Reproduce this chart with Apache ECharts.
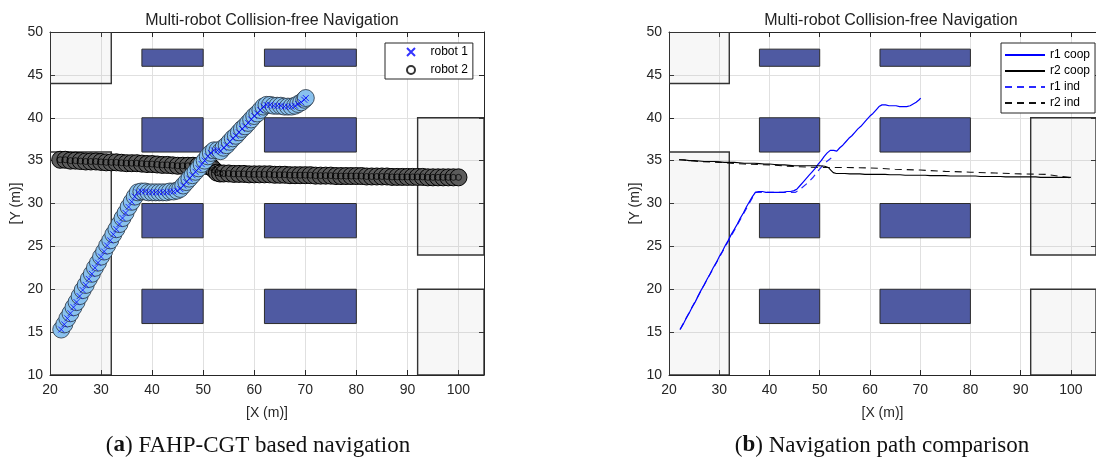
<!DOCTYPE html>
<html>
<head>
<meta charset="utf-8">
<script src="https://cdn.jsdelivr.net/npm/echarts/dist/echarts.min.js"></script>
<style>
  html, body { margin: 0; padding: 0; background: #fff; }
  #chart { width: 1096px; height: 469px; }
</style>
</head>
<body>
<div id="chart"></div>
<script>
// Map extent and tick spacing (metres)
const xRange = [20, 105];
const yRange = [10, 50];
const xStep = 10;
const yStep = 5;

// Shelf obstacles: [x0, x1, y0, y1]
const shelves = [
  [38, 50, 46, 48], [62, 80, 46, 48],
  [38, 50, 36, 40], [62, 80, 36, 40],
  [38, 50, 26, 30], [62, 80, 26, 30],
  [38, 50, 16, 20], [62, 80, 16, 20]
];

// Wall blocks on the map border: [x0, x1, y0, y1]
const walls = [
  [20, 32, 44, 50], [20, 32, 10, 36],
  [92, 105, 24, 40], [92, 105, 10, 20]
];

// Robot 1 cooperative trajectory (x, y)
const robot1Path = [
  [22.2, 15.3], [22.8, 15.9], [23.4, 16.6], [24.0, 17.2], [24.6, 17.9], [25.2, 18.5],
  [25.8, 19.2], [26.4, 19.9], [27.0, 20.5], [27.6, 21.2], [28.2, 21.8], [28.8, 22.5],
  [29.4, 23.1], [30.0, 23.8], [30.6, 24.4], [31.2, 25.1], [31.8, 25.7], [32.4, 26.4],
  [33.0, 27.0], [33.6, 27.6], [34.2, 28.3], [34.8, 28.9], [35.4, 29.6], [36.0, 30.2],
  [36.6, 30.8], [37.2, 31.3], [37.9, 31.4], [38.6, 31.4], [39.3, 31.3], [40.0, 31.3],
  [40.7, 31.3], [41.4, 31.3], [42.1, 31.3], [42.8, 31.3], [43.5, 31.4], [44.2, 31.4],
  [44.9, 31.5], [45.5, 31.7], [46.1, 32.1], [46.7, 32.5], [47.3, 32.9], [47.9, 33.3],
  [48.5, 33.7], [49.1, 34.1], [49.7, 34.6], [50.3, 35.0], [50.9, 35.5], [51.5, 35.9],
  [52.1, 36.2], [52.8, 36.2], [53.4, 36.1], [54.0, 36.5], [54.6, 36.8], [55.2, 37.2],
  [55.8, 37.6], [56.4, 37.9], [57.0, 38.3], [57.6, 38.7], [58.2, 39.0], [58.8, 39.4],
  [59.4, 39.8], [60.0, 40.2], [60.6, 40.5], [61.2, 40.9], [61.8, 41.3], [62.4, 41.5],
  [63.1, 41.5], [63.8, 41.4], [64.5, 41.4], [65.2, 41.4], [65.9, 41.3], [66.6, 41.3],
  [67.3, 41.3], [68.0, 41.4], [68.6, 41.6], [69.2, 41.8], [69.8, 42.1], [70.1, 42.3]
];

// Robot 2 cooperative trajectory (x, y)
const robot2Path = [
  [22, 35.1], [23, 35.1], [24, 35.0], [25, 35.0], [26, 34.95], [27, 34.9], [28, 34.9],
  [29, 34.9], [30, 34.85], [31, 34.8], [32, 34.8], [33, 34.8], [34, 34.75], [35, 34.7],
  [36, 34.7], [37, 34.7], [38, 34.65], [39, 34.6], [40, 34.6], [41, 34.55], [42, 34.5],
  [43, 34.5], [44, 34.45], [45, 34.4], [46, 34.4], [47, 34.4], [48, 34.4], [49, 34.4],
  [50, 34.4], [51, 34.35], [51.7, 34.2], [52.2, 33.9], [52.7, 33.6], [53.3, 33.5],
  [54, 33.5], [55, 33.5], [56, 33.45], [57, 33.45], [58, 33.45], [59, 33.4], [60, 33.4],
  [61, 33.4], [62, 33.4], [63, 33.4], [64, 33.35], [65, 33.35], [66, 33.35], [67, 33.3],
  [68, 33.3], [69, 33.3], [70, 33.3], [71, 33.3], [72, 33.25], [73, 33.25], [74, 33.25],
  [75, 33.25], [76, 33.2], [77, 33.2], [78, 33.2], [79, 33.2], [80, 33.2], [81, 33.2],
  [82, 33.15], [83, 33.15], [84, 33.15], [85, 33.15], [86, 33.15], [87, 33.1], [88, 33.1],
  [89, 33.1], [90, 33.1], [91, 33.1], [92, 33.1], [93, 33.1], [94, 33.05], [95, 33.05],
  [96, 33.05], [97, 33.05], [98, 33.05], [99, 33.05], [100, 33.05]
];

// Independent (non-cooperative) trajectories
const robot1Ind = [
  [22.2, 15.3], [26.6, 20.1], [32.0, 25.8], [37.2, 31.3], [40.0, 31.3], [44.2, 31.3],
  [45.2, 31.3], [46.4, 31.8], [47.6, 32.4], [48.6, 33.0], [49.4, 33.6], [50.4, 34.3],
  [51.4, 34.9], [52.3, 35.3]
];
const robot2Ind = [
  [22, 35.1], [26, 34.9], [30, 34.8], [35, 34.6], [40, 34.5], [45, 34.3], [50, 34.2],
  [55, 34.2], [60, 34.15], [65, 34.0], [70, 33.9], [75, 33.75], [80, 33.65], [85, 33.55],
  [90, 33.45], [95, 33.4], [100, 33.0]
];

const axisColor = '#262626';
const sans = 'Liberation Sans, Arial, sans-serif';
const serif = 'Liberation Serif, Times New Roman, serif';
const crossSymbol = 'path://M0,0L10,10M0,10L10,0';

function rectItem(params, api, fill, stroke, lineWidth) {
  const p0 = api.coord([api.value(0), api.value(3)]);
  const p1 = api.coord([api.value(1), api.value(2)]);
  return {
    type: 'rect',
    shape: { x: p0[0], y: p0[1], width: p1[0] - p0[0], height: p1[1] - p0[1] },
    style: { fill: fill, stroke: stroke, lineWidth: lineWidth }
  };
}

function xAxes(gridIndex) {
  const base = {
    type: 'value', gridIndex: gridIndex, min: xRange[0], max: xRange[1], interval: xStep,
    axisLine: { show: true, onZero: false, lineStyle: { color: axisColor, width: 1 } },
    axisTick: { show: true, inside: true, length: 5, lineStyle: { color: axisColor } }
  };
  return [
    Object.assign({}, base, {
      position: 'bottom',
      axisLabel: { show: true, margin: 8, color: axisColor, fontSize: 14, fontFamily: sans, showMaxLabel: false },
      splitLine: { show: true, lineStyle: { color: '#e0e0e0', width: 1 } },
      name: '[X (m)]', nameLocation: 'middle', nameGap: 31,
      nameTextStyle: { color: axisColor, fontSize: 14, fontFamily: sans }
    }),
    Object.assign({}, base, {
      position: 'top', axisLabel: { show: false }, splitLine: { show: false }
    })
  ];
}

function yAxes(gridIndex) {
  const base = {
    type: 'value', gridIndex: gridIndex, min: yRange[0], max: yRange[1], interval: yStep,
    axisLine: { show: true, onZero: false, lineStyle: { color: axisColor, width: 1 } },
    axisTick: { show: true, inside: true, length: 5, lineStyle: { color: axisColor } }
  };
  return [
    Object.assign({}, base, {
      position: 'left',
      axisLabel: { show: true, margin: 7, color: axisColor, fontSize: 14, fontFamily: sans },
      splitLine: { show: true, lineStyle: { color: '#e0e0e0', width: 1 } },
      name: '[Y (m)]', nameLocation: 'middle', nameGap: 23,
      nameTextStyle: { color: axisColor, fontSize: 14, fontFamily: sans }
    }),
    Object.assign({}, base, {
      position: 'right', axisLabel: { show: false }, splitLine: { show: false }
    })
  ];
}

// Map layers (walls + shelves) for one panel
function mapSeries(gridIndex) {
  const xi = gridIndex * 2, yi = gridIndex * 2;
  return [
    {
      type: 'custom', xAxisIndex: xi, yAxisIndex: yi, silent: true, z: 1, clip: true,
      data: walls, encode: { x: [0, 1], y: [2, 3] },
      renderItem: (p, api) => rectItem(p, api, 'rgba(190,190,190,0.12)', '#333333', 1.4)
    },
    {
      type: 'custom', xAxisIndex: xi, yAxisIndex: yi, silent: true, z: 2, clip: true,
      data: shelves, encode: { x: [0, 1], y: [2, 3] },
      renderItem: (p, api) => rectItem(p, api, '#4f5aa2', '#2c2c2c', 1)
    }
  ];
}

const chart = echarts.init(document.getElementById('chart'), null, { renderer: 'canvas' });

const captionStyle = {
  fontSize: 23, fontWeight: 'normal', color: '#111', fontFamily: serif,
  rich: { b: { fontSize: 23, fontWeight: 'bold', color: '#111', fontFamily: serif } }
};
const titleStyle = { fontSize: 16, fontWeight: 'normal', color: '#222', fontFamily: sans };

const option = {
  animation: false,
  backgroundColor: '#ffffff',
  title: [
    { text: 'Multi-robot Collision-free Navigation', left: 267, top: 8, textAlign: 'center', textStyle: titleStyle },
    { text: 'Multi-robot Collision-free Navigation', left: 886, top: 8, textAlign: 'center', textStyle: titleStyle },
    { text: '({b|a}) FAHP-CGT based navigation', left: 253, top: 429, textAlign: 'center', textStyle: captionStyle },
    { text: '({b|b}) Navigation path comparison', left: 877, top: 429, textAlign: 'center', textStyle: captionStyle }
  ],
  legend: [
    {
      orient: 'vertical', left: 385, top: 43, selectedMode: false,
      itemWidth: 29, itemHeight: 8, itemGap: 6, padding: [3, 5, 3, 21],
      borderColor: axisColor, borderWidth: 1, backgroundColor: '#fff',
      textStyle: { fontSize: 12, color: '#000', fontFamily: sans },
      data: [
        { name: 'robot 1', icon: crossSymbol },
        { name: 'robot 2', icon: 'circle' }
      ]
    },
    {
      orient: 'vertical', left: 1001, top: 43, selectedMode: false,
      itemWidth: 40, itemHeight: 10, itemGap: 4, padding: [6, 5, 4, 3],
      borderColor: axisColor, borderWidth: 1, backgroundColor: '#fff',
      itemStyle: { color: 'rgba(0,0,0,0)', borderColor: 'rgba(0,0,0,0)', borderWidth: 0 },
      textStyle: { fontSize: 12, color: '#000', fontFamily: sans },
      data: ['r1 coop', 'r2 coop', 'r1 ind', 'r2 ind']
    }
  ],
  grid: [
    { left: 50, top: 32, width: 434, height: 343 },
    { left: 669, top: 32, width: 434, height: 343 }
  ],
  xAxis: xAxes(0).concat(xAxes(1)),
  yAxis: yAxes(0).concat(yAxes(1)),
  series: [
    ...mapSeries(0),
    ...mapSeries(1),
    // Panel (a): robot footprints along each trajectory
    {
      type: 'scatter', xAxisIndex: 0, yAxisIndex: 0, silent: true, z: 3,
      data: robot2Path, symbol: 'circle', symbolSize: 17,
      itemStyle: { color: '#5c5c5c', borderColor: '#000', borderWidth: 1, opacity: 1 }
    },
    {
      name: 'robot 2', type: 'scatter', xAxisIndex: 0, yAxisIndex: 0, silent: true, z: 4,
      data: robot2Path, symbol: 'circle', symbolSize: 6,
      itemStyle: { color: 'rgba(0,0,0,0)', borderColor: '#000', borderWidth: 0.9 }
    },
    {
      type: 'scatter', xAxisIndex: 0, yAxisIndex: 0, silent: true, z: 5,
      data: robot1Path, symbol: 'circle', symbolSize: 17,
      itemStyle: { color: '#89c1ee', borderColor: '#27313d', borderWidth: 0.8, opacity: 1 }
    },
    {
      name: 'robot 1', type: 'scatter', xAxisIndex: 0, yAxisIndex: 0, silent: true, z: 6,
      data: robot1Path, symbol: crossSymbol, symbolSize: 6,
      itemStyle: { color: 'rgba(0,0,0,0)', borderColor: '#0000ff', borderWidth: 1 }
    },
    // Panel (b): path comparison
    {
      name: 'r1 ind', type: 'line', xAxisIndex: 2, yAxisIndex: 2, z: 3, silent: true,
      data: robot1Ind, symbol: 'none',
      lineStyle: { color: '#2a2aff', width: 1.2, type: [7, 5] }, itemStyle: { color: '#2a2aff' }
    },
    {
      name: 'r2 ind', type: 'line', xAxisIndex: 2, yAxisIndex: 2, z: 3, silent: true,
      data: robot2Ind, symbol: 'none',
      lineStyle: { color: '#111', width: 1.1, type: [7, 5] }, itemStyle: { color: '#111' }
    },
    {
      name: 'r1 coop', type: 'line', xAxisIndex: 2, yAxisIndex: 2, z: 4, silent: true,
      data: robot1Path, symbol: 'none',
      lineStyle: { color: '#0000ff', width: 1.2 }, itemStyle: { color: '#0000ff' }
    },
    {
      name: 'r2 coop', type: 'line', xAxisIndex: 2, yAxisIndex: 2, z: 4, silent: true,
      data: robot2Path, symbol: 'none',
      lineStyle: { color: '#000', width: 1.1 }, itemStyle: { color: '#000' }
    }
  ]
};

chart.setOption(option);
</script>
</body>
</html>
